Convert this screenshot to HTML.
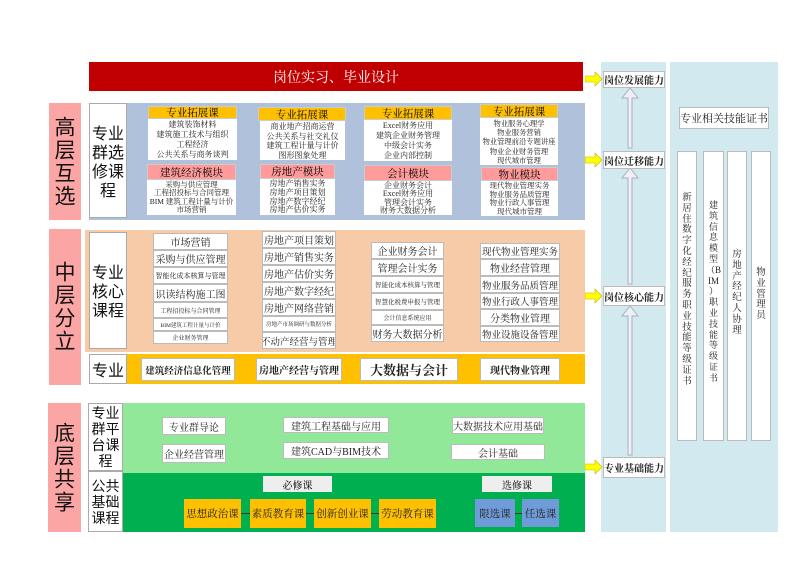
<!DOCTYPE html>
<html><head><meta charset="utf-8"><style>
body{margin:0;width:800px;height:565px;background:#fff;position:relative;overflow:hidden;font-family:"Liberation Serif","Noto Serif CJK SC","Noto Sans CJK SC",serif;}
div{position:absolute;box-sizing:border-box;}
.c{display:flex;align-items:center;justify-content:center;text-align:center;}
.w{background:#fff;border:1px solid #c8c8c8;color:#222;}
.pk{background:#fca5a5;color:#111;font-size:21px;line-height:26px;writing-mode:vertical-rl;letter-spacing:2px;font-family:"Noto Sans CJK SC",sans-serif;}
.lab{background:#fff;border:1px solid #aaa;font-size:16px;line-height:19px;font-family:"Noto Sans CJK SC",sans-serif;color:#111;}
.hd{background:#ffc000;font-size:10.5px;border:1px solid #ccc;}
.md{background:#ff9b9b;font-size:10.5px;border:1px solid #ccc;}
.ls{background:#fff;font-size:8px;line-height:10px;color:#222;padding-top:1px;white-space:nowrap;overflow:hidden;}
.it{background:#fff;border:1px solid #bbb;font-size:10px;color:#222;white-space:nowrap;overflow:hidden;}
.or{background:#ffc000;font-size:10.5px;color:#222;}
.bl{background:#6f9bd8;font-size:10.5px;color:#222;}
.cap{background:#fff;border:1px solid #bbb;font-size:10px;font-weight:bold;color:#222;white-space:nowrap;}
.v{background:#fff;border:1px solid #bbb;font-size:9.5px;line-height:10.8px;text-align:center;color:#222;}
</style></head><body>

<div class="c" style="left:89px;top:62px;width:494px;height:29px;background:#c00000;color:#fff;font-size:14px;">岗位实习、毕业设计</div>

<div class="pk c" style="left:49px;top:103px;width:32px;height:117px;">高层互选</div>
<div class="pk c" style="left:49px;top:229px;width:32px;height:156px;">中层分立</div>
<div class="pk c" style="left:48px;top:403px;width:33px;height:129px;">底层共享</div>

<!-- top -->
<div style="left:89px;top:103px;width:496px;height:117px;background:#b0c2db;"></div>
<div class="lab c" style="left:89px;top:103px;width:38px;height:115px;">专业<br>群选<br>修课<br>程</div>

<div class="hd c" style="left:148px;top:106px;width:89px;height:13px;">专业拓展课</div>
<div class="ls" style="left:148px;top:119px;width:89px;height:41px;text-align:center;">建筑装饰材料<br>建筑施工技术与组织<br>工程经济<br>公共关系与商务谈判</div>
<div class="md c" style="left:147px;top:164px;width:89px;height:16px;">建筑经济模块</div>
<div class="ls" style="left:147px;top:180px;width:89px;height:35px;text-align:center;line-height:8.4px;font-size:7.5px;">采购与供应管理<br>工程招投标与合同管理<br>BIM 建筑工程计量与计价<br>市场营销</div>

<div class="hd c" style="left:258px;top:107px;width:88px;height:14px;">专业拓展课</div>
<div class="ls" style="left:260px;top:121px;width:85px;height:39px;text-align:center;line-height:9.5px;">商业地产招商运营<br>公共关系与社交礼仪<br>建筑工程计量与计价<br>图形图象处理</div>
<div class="md c" style="left:260px;top:164px;width:75px;height:15px;">房地产模块</div>
<div class="ls" style="left:260px;top:179px;width:75px;height:36px;text-align:center;line-height:8.8px;">房地产销售实务<br>房地产项目策划<br>房地产数字经纪<br>房地产估价实务</div>

<div class="hd c" style="left:364px;top:106px;width:88px;height:14px;">专业拓展课</div>
<div class="ls" style="left:364px;top:120px;width:88px;height:41px;text-align:center;line-height:10px;">Excel财务应用<br>建筑企业财务管理<br>中级会计实务<br>企业内部控制</div>
<div class="md c" style="left:364px;top:165px;width:88px;height:16px;">会计模块</div>
<div class="ls" style="left:364px;top:181px;width:88px;height:34px;text-align:center;line-height:8.4px;">企业财务会计<br>Excel财务应用<br>管理会计实务<br>财务大数据分析</div>

<div class="hd c" style="left:480px;top:104px;width:78px;height:14px;">专业拓展课</div>
<div class="ls" style="left:480px;top:118px;width:78px;height:47px;text-align:center;line-height:9.2px;font-size:7.3px;">物业服务心理学<br>物业服务营销<br>物业管理前沿专题讲座<br>物业企业财务管理<br>现代城市管理</div>
<div class="md c" style="left:481px;top:167px;width:77px;height:14px;">物业模块</div>
<div class="ls" style="left:481px;top:181px;width:77px;height:35px;text-align:center;line-height:8.5px;font-size:7.5px;">现代物业管理实务<br>物业服务品质管理<br>物业行政人事管理<br>现代城市管理</div>

<!-- middle -->
<div style="left:85px;top:230px;width:500px;height:122px;background:#f8cba8;"></div>
<div class="lab c" style="left:89px;top:232px;width:38px;height:117px;">专业<br>核心<br>课程</div>
<div class="it c" style="left:153px;top:233px;width:75px;height:17px;">市场营销</div>
<div class="it c" style="left:153px;top:250px;width:75px;height:17px;">采购与供应管理</div>
<div class="it c" style="left:153px;top:267px;width:75px;height:17px;font-size:7px;">智能化成本核算与管理</div>
<div class="it c" style="left:153px;top:284px;width:75px;height:18px;">识读结构施工图</div>
<div class="it c" style="left:153px;top:302px;width:75px;height:16px;font-size:6px;">工程招投标与合同管理</div>
<div class="it c" style="left:153px;top:318px;width:75px;height:13px;font-size:5.5px;">BIM建筑工程计量与计价</div>
<div class="it c" style="left:153px;top:331px;width:75px;height:13px;font-size:6px;">企业财务管理</div>

<div class="it c" style="left:262px;top:231px;width:74px;height:17px;">房地产项目策划</div>
<div class="it c" style="left:262px;top:248px;width:74px;height:17px;">房地产销售实务</div>
<div class="it c" style="left:262px;top:265px;width:74px;height:17px;">房地产估价实务</div>
<div class="it c" style="left:262px;top:282px;width:74px;height:17px;">房地产数字经纪</div>
<div class="it c" style="left:262px;top:299px;width:74px;height:17px;">房地产网络营销</div>
<div class="it c" style="left:262px;top:316px;width:74px;height:16px;font-size:5.5px;">房地产市场调研与数据分析</div>
<div class="it c" style="left:262px;top:332px;width:74px;height:17px;font-size:9.5px;">不动产经营与管理</div>

<div class="it c" style="left:371px;top:242px;width:73px;height:17px;">企业财务会计</div>
<div class="it c" style="left:371px;top:259px;width:73px;height:17px;">管理会计实务</div>
<div class="it c" style="left:371px;top:276px;width:73px;height:17px;font-size:6.5px;">智能化成本核算与管理</div>
<div class="it c" style="left:371px;top:293px;width:73px;height:17px;font-size:6.5px;">智慧化税费申报与管理</div>
<div class="it c" style="left:371px;top:310px;width:73px;height:15px;font-size:6px;">会计信息系统应用</div>
<div class="it c" style="left:371px;top:325px;width:73px;height:17px;">财务大数据分析</div>

<div class="it c" style="left:480px;top:243px;width:80px;height:16px;font-size:9.5px;">现代物业管理实务</div>
<div class="it c" style="left:480px;top:259px;width:80px;height:17px;">物业经营管理</div>
<div class="it c" style="left:480px;top:276px;width:80px;height:17px;font-size:9.5px;">物业服务品质管理</div>
<div class="it c" style="left:480px;top:293px;width:80px;height:16px;font-size:9.5px;">物业行政人事管理</div>
<div class="it c" style="left:480px;top:309px;width:80px;height:17px;">分类物业管理</div>
<div class="it c" style="left:480px;top:326px;width:80px;height:16px;font-size:9.5px;">物业设施设备管理</div>

<div style="left:126px;top:354px;width:459px;height:30px;background:#ffc000;"></div>
<div class="lab c" style="left:89px;top:354px;width:38px;height:30px;">专业</div>
<div class="cap c" style="left:141px;top:358px;width:94px;height:23px;font-size:9.5px;">建筑经济信息化管理</div>
<div class="cap c" style="left:256px;top:358px;width:86px;height:23px;">房地产经营与管理</div>
<div class="cap c" style="left:360px;top:358px;width:98px;height:23px;font-size:13px;">大数据与会计</div>
<div class="cap c" style="left:480px;top:358px;width:80px;height:23px;">现代物业管理</div>

<!-- bottom -->
<div style="left:122px;top:403px;width:463px;height:70px;background:#92e899;"></div>
<div style="left:122px;top:473px;width:463px;height:59px;background:#00b050;"></div>
<div class="lab c" style="left:88px;top:403px;width:35px;height:68px;font-size:14px;line-height:16px;">专业<br>群平<br>台课<br>程</div>
<div class="lab c" style="left:88px;top:471px;width:35px;height:61px;font-size:14px;line-height:16px;">公共<br>基础<br>课程</div>

<div class="it c" style="left:162px;top:417px;width:64px;height:18px;">专业群导论</div>
<div class="it c" style="left:162px;top:444px;width:64px;height:19px;">企业经营管理</div>
<div class="it c" style="left:283px;top:417px;width:106px;height:16px;">建筑工程基础与应用</div>
<div class="it c" style="left:283px;top:442px;width:106px;height:17px;">建筑CAD与BIM技术</div>
<div class="it c" style="left:452px;top:417px;width:92px;height:17px;">大数据技术应用基础</div>
<div class="it c" style="left:451px;top:444px;width:94px;height:16px;">会计基础</div>
<div class="c" style="left:263px;top:476px;width:69px;height:16px;background:#eee;font-size:10px;">必修课</div>
<div class="c" style="left:482px;top:476px;width:70px;height:16px;background:#eee;font-size:10px;">选修课</div>
<div style="left:241px;top:513px;width:138px;height:1px;background:#333;"></div>
<div style="left:515px;top:513px;width:7px;height:1px;background:#333;"></div>
<div class="or c" style="left:184px;top:499px;width:57px;height:29px;">思想政治课</div>
<div class="or c" style="left:250px;top:499px;width:56px;height:29px;">素质教育课</div>
<div class="or c" style="left:314px;top:499px;width:57px;height:29px;">创新创业课</div>
<div class="or c" style="left:379px;top:499px;width:57px;height:29px;">劳动教育课</div>
<div class="bl c" style="left:475px;top:499px;width:40px;height:28px;">限选课</div>
<div class="bl c" style="left:522px;top:499px;width:37px;height:28px;">任选课</div>

<!-- right -->
<div style="left:601px;top:62px;width:65px;height:470px;background:#d2e9f0;"></div>
<div style="left:670px;top:62px;width:108px;height:470px;background:#d2e9f0;"></div>
<svg style="position:absolute;left:585px;top:60px" width="90" height="430">
<g fill="#eef0f4" stroke="#a8b0c0" stroke-width="1">
<polygon points="43,88 43,38 37,38 45,28 53,38 47,38 47,88"/>
<polygon points="43,224 43,118 37,118 45,108 53,118 47,118 47,224"/>
<polygon points="43,395 43,256 37,256 45,246 53,256 47,256 47,395"/>
</g>
<g fill="#ffff00" stroke="#c8b400" stroke-width="0.6">
<polygon points="0,16 10,16 10,12 17,19 10,26 10,22 0,22"/>
<polygon points="0,97 10,97 10,93 17,100 10,107 10,103 0,103"/>
<polygon points="0,233 10,233 10,229 17,236 10,243 10,239 0,239"/>
<polygon points="0,404 10,404 10,400 17,407 10,414 10,410 0,410"/>
</g>
</svg>
<div class="cap c" style="left:603px;top:71px;width:62px;height:17px;">岗位发展能力</div>
<div class="cap c" style="left:603px;top:151px;width:62px;height:18px;">岗位迁移能力</div>
<div class="cap c" style="left:603px;top:286px;width:62px;height:20px;">岗位核心能力</div>
<div class="cap c" style="left:603px;top:457px;width:62px;height:21px;">专业基础能力</div>

<div class="it c" style="left:679px;top:107px;width:90px;height:22px;font-size:11px;">专业相关技能证书</div>
<div class="v" style="left:677px;top:151px;width:20px;height:290px;padding-top:41px;">新<br>居<br>住<br>数<br>字<br>化<br>经<br>纪<br>服<br>务<br>职<br>业<br>技<br>能<br>等<br>级<br>证<br>书</div>
<div class="v" style="left:703px;top:151px;width:21px;height:290px;padding-top:48px;font-size:9px;">建<br>筑<br>信<br>息<br>模<br>型<br>（B<br>IM<br>）<br>职<br>业<br>技<br>能<br>等<br>级<br>证<br>书</div>
<div class="v" style="left:727px;top:151px;width:20px;height:290px;padding-top:98px;">房<br>地<br>产<br>经<br>纪<br>人<br>协<br>理</div>
<div class="v" style="left:751px;top:151px;width:20px;height:290px;padding-top:116px;">物<br>业<br>管<br>理<br>员</div>
</body></html>
